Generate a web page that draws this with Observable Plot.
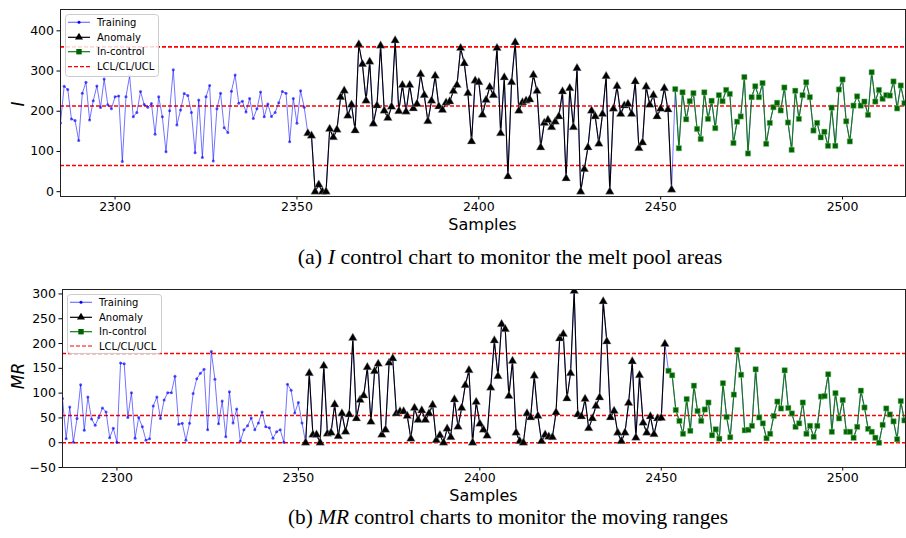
<!DOCTYPE html>
<html><head><meta charset="utf-8">
<script src="https://cdn.jsdelivr.net/npm/d3@7"></script>
<script src="https://cdn.jsdelivr.net/npm/@observablehq/plot@0.6"></script>
<style>
body{margin:0;background:#fff;}
#wrap{position:relative;width:906px;height:538px;overflow:hidden;font-family:"DejaVu Sans",sans-serif;background:#fff;}
.abs{position:absolute;white-space:nowrap;}
.xlab{font-size:16px;transform:translate(-50%,-50%);}
.ylab{font-size:17px;font-style:italic;transform:translate(-50%,-50%) rotate(-90deg);}
.cap{font-family:"Liberation Serif","Times New Roman",serif;font-size:22px;transform:translateX(-50%);}
.capb{font-size:21.3px;}
</style></head>
<body><div id="wrap"></div>
<script>
// ---------- data ----------
const sampleDomain = [2285, 2517.3];
const xTicks = [2300, 2350, 2400, 2450, 2500];
const iTicks = [0, 100, 200, 300, 400];
const mrTicks = [-50, 0, 50, 100, 150, 200, 250, 300];

// I chart limits (LCL, CL, UCL)
const iLimits = [65, 213, 360];
// MR chart limits (LCL, CL, UCL)
const mrLimits = [0, 55, 180];

// I chart series (first sample index + values)
const iTrainingStart = 2285;
const iTraining = [171,262,254,181,177,127,245,272,178,226,263,209,280,216,206,236,238,75,236,288,
  186,197,249,217,210,219,143,236,186,99,201,303,166,203,244,239,197,97,228,85,
  236,264,76,206,245,159,147,250,290,220,225,198,232,182,206,248,186,218,187,197,
  221,249,245,124,232,170,251,210];
const iAnomalyStart = 2353;
const iAnomaly = [145,139,0,17,0,0,156,135,154,235,251,189,216,152,366,317,226,323,169,214,
  363,201,183,211,376,200,265,199,265,207,218,292,240,175,226,288,212,203,221,224,
  250,265,357,319,245,125,276,272,191,228,
  260,240,357,145,284,38,272,371,201,222,226,229,290,250,110,171,178,160,174,187,
  249,33,257,160,307,0,56,110,201,187,119,193,287,0,206,262,193,214,218,193,
  274,108,122,261,216,240,187,206,257,204,5];
const iInControlStart = 2454;
const iInControl = [255,108,247,180,225,245,156,131,247,181,226,158,240,225,253,243,121,174,187,285,
  95,235,262,235,270,119,171,210,221,202,259,172,104,251,181,240,272,235,152,171,
  135,149,114,209,114,254,279,175,125,214,237,214,224,191,297,224,253,231,240,239,
  274,207,264,220];

// MR chart series
const mrTrainingStart = 2285;
const mrTraining = [89,8,72,1,49,117,25,92,48,35,51,70,62,10,29,1,161,159,51,101,
  9,51,32,5,8,74,92,49,86,101,101,134,37,39,5,39,99,129,140,148,
  26,184,128,38,84,12,103,40,68,3,26,34,50,26,40,62,32,30,9,22,
  26,1,118,106,60,81,40];
const mrAnomalyStart = 2352;
const mrAnomaly = [0,140,16,16,0,155,18,20,77,13,59,22,57,211,49,86,95,152,42,144,
  159,16,26,161,170,59,63,63,54,8,70,46,65,46,59,76,5,15,0,28,
  11,87,32,70,116,146,0,82,38,26,
  14,111,206,134,239,229,94,165,20,3,0,59,51,135,54,3,16,12,11,61,
  210,219,89,140,306,57,53,88,29,49,74,91,285,204,51,64,20,3,20,80,
  164,10,136,40,20,53,17,49,50,199];
const mrInControlStart = 2452;
const mrInControl = [145,136,66,44,18,88,24,115,64,44,67,81,15,27,8,120,52,11,97,187,
  137,25,26,34,148,51,39,9,18,54,83,69,146,70,59,32,39,81,18,34,
  12,34,93,94,138,22,100,49,86,22,22,10,32,105,71,28,22,10,0,36,
  69,57,43,7,84,45];

const legendLabels = ["Training", "Anomaly", "In-control", "LCL/CL/UCL"];

// ---------- styles ----------
const C = {train: "#0000ff", anom: "#000000", inc: "#006400", incLine: "#137a13", lim: "#ff0000"};

function toRows(start, vals) { return vals.map((v, i) => ({x: start + i, y: v})); }

const wrap = document.getElementById("wrap");

function panel({top, height, mTop, mBottom, mLeft, yDomain, yTicks, limits, tr, an, ic}) {
  const all = [...tr, ...an, ...ic].sort((a, b) => a.x - b.x);
  const lim = limits.map((v, k) => ({y: v, k}));
  const svg = Plot.plot({
    width: 906, height, marginTop: mTop, marginBottom: mBottom, marginLeft: mLeft, marginRight: 1,
    style: {fontFamily: "DejaVu Sans, sans-serif", fontSize: "12.5px", background: "transparent", color: "#000"},
    x: {domain: sampleDomain, ticks: xTicks, label: null},
    y: {domain: yDomain, ticks: yTicks, label: null},
    marks: [
      Plot.ruleY(lim, {y: "y", stroke: C.lim, strokeWidth: 1.6, strokeDasharray: "4,2"}),
      Plot.line(all, {x: "x", y: "y", stroke: C.train, strokeOpacity: 0.55, strokeWidth: 1, clip: true}),
      Plot.dot(tr, {x: "x", y: "y", r: 1.5, fill: C.train, fillOpacity: 0.65, clip: true}),
      Plot.line(an, {x: "x", y: "y", stroke: C.anom, strokeWidth: 1.1, clip: true}),
      Plot.dot(an, {x: "x", y: "y", symbol: "triangle", r: 3.2, fill: C.anom, stroke: "#999", strokeWidth: 0.4, clip: true}),
      Plot.line(ic, {x: "x", y: "y", stroke: C.incLine, strokeWidth: 1.1, clip: true}),
      Plot.dot(ic, {x: "x", y: "y", symbol: "square", r: 3.0, fill: C.inc, stroke: "#7fbf7f", strokeWidth: 0.5, clip: true}),
      Plot.axisX({ticks: xTicks, tickSize: 3.5, tickPadding: 2, label: null, tickFormat: d => String(d)}),
      Plot.axisY({ticks: yTicks, tickSize: 3.5, tickPadding: 3, label: null, tickFormat: d => d < 0 ? "\u2212" + Math.abs(d) : String(d)}),
      Plot.frame({stroke: "#222", strokeWidth: 1})
    ]
  });
  svg.style.position = "absolute";
  svg.style.left = "0px";
  svg.style.top = top + "px";
  wrap.appendChild(svg);
}

panel({top: 0, height: 232, mTop: 9, mBottom: 36, mLeft: 60, yDomain: [-12, 453], yTicks: iTicks, limits: iLimits,
  tr: toRows(iTrainingStart, iTraining), an: toRows(iAnomalyStart, iAnomaly), ic: toRows(iInControlStart, iInControl)});
panel({top: 280, height: 225, mTop: 9, mBottom: 38, mLeft: 62, yDomain: [-50, 309], yTicks: mrTicks, limits: mrLimits,
  tr: toRows(mrTrainingStart, mrTraining), an: toRows(mrAnomalyStart, mrAnomaly), ic: toRows(mrInControlStart, mrInControl)});

// legends
function legend(x, y, w, h, rowY) {
  const s = d3.select(wrap).append("svg").attr("class", "abs")
    .style("left", x + "px").style("top", y + "px").attr("width", w + 2).attr("height", h + 2);
  s.append("rect").attr("x", 0.5).attr("y", 0.5).attr("width", w).attr("height", h).attr("rx", 3)
    .attr("fill", "white").attr("fill-opacity", 0.85).attr("stroke", "#cccccc");
  const lx0 = 3, lx1 = 25, mx = 14, tx = 32;
  const items = [
    {stroke: C.train, op: 0.55, dash: null, marker: "dot"},
    {stroke: C.anom, op: 1, dash: null, marker: "tri"},
    {stroke: C.incLine, op: 1, dash: null, marker: "sq"},
    {stroke: C.lim, op: 1, dash: "4,2", marker: null}
  ];
  items.forEach((it, i) => {
    const yy = rowY[i];
    s.append("line").attr("x1", lx0).attr("x2", lx1).attr("y1", yy).attr("y2", yy)
      .attr("stroke", it.stroke).attr("stroke-opacity", it.op).attr("stroke-width", 1.2)
      .attr("stroke-dasharray", it.dash);
    if (it.marker === "dot") s.append("circle").attr("cx", mx).attr("cy", yy).attr("r", 1.5).attr("fill", C.train);
    if (it.marker === "tri") s.append("path").attr("d", d3.symbol(d3.symbolTriangle, 28)()).attr("transform", `translate(${mx},${yy})`).attr("fill", "#000");
    if (it.marker === "sq") s.append("rect").attr("x", mx - 2.7).attr("y", yy - 2.7).attr("width", 5.4).attr("height", 5.4).attr("fill", C.inc);
    s.append("text").attr("x", tx).attr("y", yy).attr("dy", "0.35em").attr("font-size", "10px")
      .attr("font-family", "DejaVu Sans, sans-serif").text(legendLabels[i]);
  });
}
legend(65, 14, 93, 62, [8.3, 23.3, 37.7, 52.7]);
legend(67, 294, 94, 59, [8.3, 23.3, 37.7, 52]);

// axis labels & captions
function addDiv(cls, x, y, html) {
  const d = document.createElement("div");
  d.className = "abs " + cls;
  d.style.left = x + "px"; d.style.top = y + "px";
  d.innerHTML = html;
  wrap.appendChild(d);
}
addDiv("xlab", 482.5, 223.5, "Samples");
addDiv("xlab", 483.5, 495, "Samples");
addDiv("ylab", 18, 104, "I");
addDiv("ylab", 18, 376, "MR");
addDiv("cap", 510, 243.5, "(a) <i>I</i> control chart to monitor the melt pool areas");
addDiv("cap capb", 508, 504.5, "(b) <i>MR</i> control charts to monitor the moving ranges");
</script>
</body></html>
